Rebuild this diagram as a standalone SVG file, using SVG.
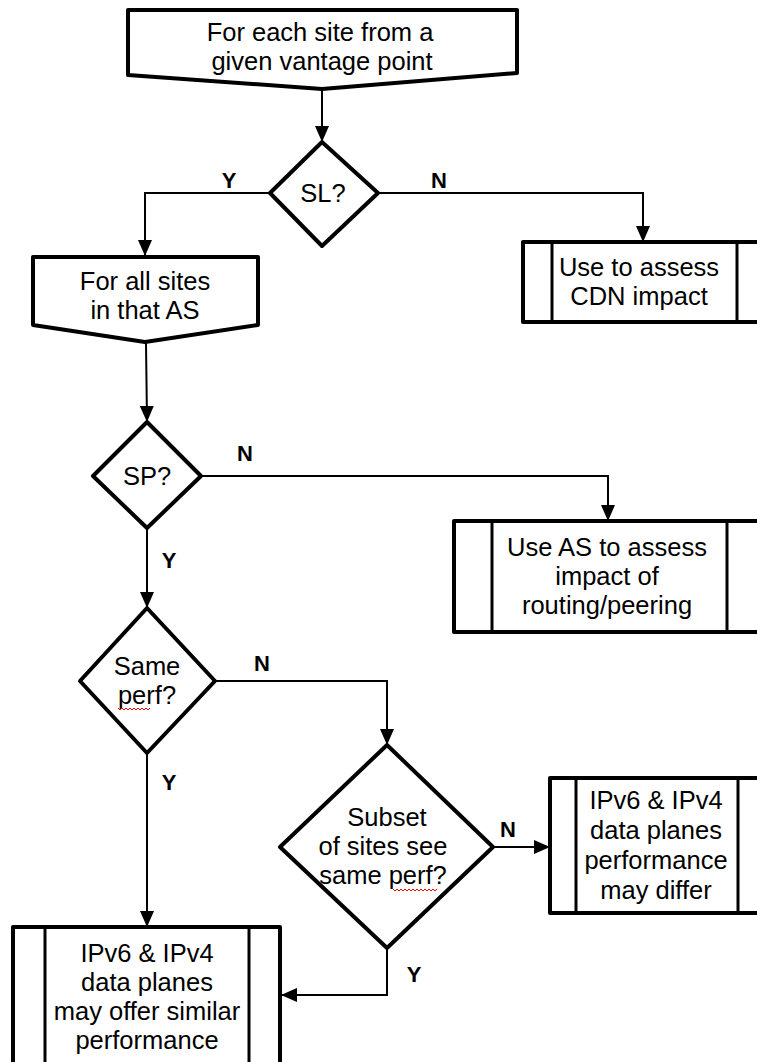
<svg xmlns="http://www.w3.org/2000/svg" width="757" height="1062" viewBox="0 0 757 1062">
<style>
.shape{fill:#fff;stroke:#000;stroke-width:4;stroke-linejoin:round}
.inner{stroke:#000;stroke-width:3}
.conn{fill:none;stroke:#000;stroke-width:2}
.t{font-family:"Liberation Sans",Arial,sans-serif;font-size:25.5px;fill:#000;text-anchor:middle}
.lbl{font-family:"Liberation Sans",Arial,sans-serif;font-size:22px;font-weight:bold;fill:#000;text-anchor:middle}
.sq{fill:none;stroke:#e00;stroke-width:1}
</style>
<defs>
<marker id="arr" markerWidth="16" markerHeight="14" refX="15" refY="7" orient="auto" markerUnits="userSpaceOnUse">
<path d="M0,0 L16,7 L0,14 Z" fill="#000"/>
</marker>
</defs>
<g id="connectors">
<path class="conn" d="M322,90 L322,141" marker-end="url(#arr)"/>
<path class="conn" d="M270,193 L145,193 L145,255" marker-end="url(#arr)"/>
<path class="conn" d="M378,193 L643,193 L643,241" marker-end="url(#arr)"/>
<path class="conn" d="M146,343 L147,421" marker-end="url(#arr)"/>
<path class="conn" d="M201,476 L608,476 L608,520" marker-end="url(#arr)"/>
<path class="conn" d="M147,528 L147,607" marker-end="url(#arr)"/>
<path class="conn" d="M215,681 L387,681 L387,744" marker-end="url(#arr)"/>
<path class="conn" d="M493,847 L549,847" marker-end="url(#arr)"/>
<path class="conn" d="M147,753 L147,926" marker-end="url(#arr)"/>
<path class="conn" d="M387,948 L387,995 L282,995" marker-end="url(#arr)"/>
<text class="lbl" x="229" y="188">Y</text>
<text class="lbl" x="439" y="188">N</text>
<text class="lbl" x="245" y="461">N</text>
<text class="lbl" x="169" y="568">Y</text>
<text class="lbl" x="262" y="671">N</text>
<text class="lbl" x="169" y="790">Y</text>
<text class="lbl" x="508" y="837">N</text>
<text class="lbl" x="414" y="982">Y</text>
</g>
<g id="start">
<path class="shape" d="M128,10 L517,10 L517,73 L322,89 L128,75 Z"/>
<text class="t" x="320" y="41">For each site from a</text>
<text class="t" x="322" y="70">given vantage point</text>
</g>
<g id="sl">
<path class="shape" d="M322,142 L378,193 L322,246 L270,193 Z"/>
<text class="t" x="323" y="202">SL?</text>
</g>
<g id="allsites">
<path class="shape" d="M33,257 L258,257 L258,325 L145,342 L33,325 Z"/>
<text class="t" x="145" y="290">For all sites</text>
<text class="t" x="145" y="319">in that AS</text>
</g>
<g id="cdn">
<rect class="shape" x="523" y="242" width="250" height="80"/>
<line class="inner" x1="552" y1="242" x2="552" y2="322"/>
<line class="inner" x1="737" y1="242" x2="737" y2="322"/>
<text class="t" x="639" y="276">Use to assess</text>
<text class="t" x="639" y="305">CDN impact</text>
</g>
<g id="sp">
<path class="shape" d="M147,422 L201,476 L147,528 L93,476 Z"/>
<text class="t" x="147" y="485">SP?</text>
</g>
<g id="routing">
<rect class="shape" x="454" y="521" width="320" height="111"/>
<line class="inner" x1="492" y1="521" x2="492" y2="632"/>
<line class="inner" x1="727" y1="521" x2="727" y2="632"/>
<text class="t" x="607" y="556">Use AS to assess</text>
<text class="t" x="607" y="585">impact of</text>
<text class="t" x="607" y="614">routing/peering</text>
</g>
<g id="sameperf">
<path class="shape" d="M147,608 L215,681 L147,753 L80,681 Z"/>
<text class="t" x="147" y="675">Same</text>
<text class="t" x="147" y="704">perf?</text>
<path class="sq" d="M118,708 l2,2 l2,-2 l2,2 l2,-2 l2,2 l2,-2 l2,2 l2,-2 l2,2 l2,-2 l2,2 l2,-2 l2,2 l2,-2 l2,2 l2,-2"/>
</g>
<g id="subset">
<path class="shape" d="M387,745 L493,847 L387,948 L280,847 Z"/>
<text class="t" x="387" y="826">Subset</text>
<text class="t" x="383" y="855">of sites see</text>
<text class="t" x="383" y="884">same perf?</text>
<path class="sq" d="M393,889 l2,2 l2,-2 l2,2 l2,-2 l2,2 l2,-2 l2,2 l2,-2 l2,2 l2,-2 l2,2 l2,-2 l2,2 l2,-2 l2,2 l2,-2 l2,2 l2,-2 l2,2 l2,-2 l2,2 l2,-2"/>
</g>
<g id="differ">
<rect class="shape" x="550" y="778" width="220" height="135"/>
<line class="inner" x1="576" y1="778" x2="576" y2="913"/>
<line class="inner" x1="738" y1="778" x2="738" y2="913"/>
<text class="t" x="656" y="809">IPv6 &amp; IPv4</text>
<text class="t" x="656" y="839">data planes</text>
<text class="t" x="656" y="869">performance</text>
<text class="t" x="656" y="899">may differ</text>
</g>
<g id="similar">
<rect class="shape" x="13" y="927" width="267" height="150"/>
<line class="inner" x1="45" y1="927" x2="45" y2="1077"/>
<line class="inner" x1="249" y1="927" x2="249" y2="1077"/>
<text class="t" x="147" y="962">IPv6 &amp; IPv4</text>
<text class="t" x="147" y="991">data planes</text>
<text class="t" x="147" y="1020">may offer similar</text>
<text class="t" x="147" y="1049">performance</text>
</g>
</svg>
